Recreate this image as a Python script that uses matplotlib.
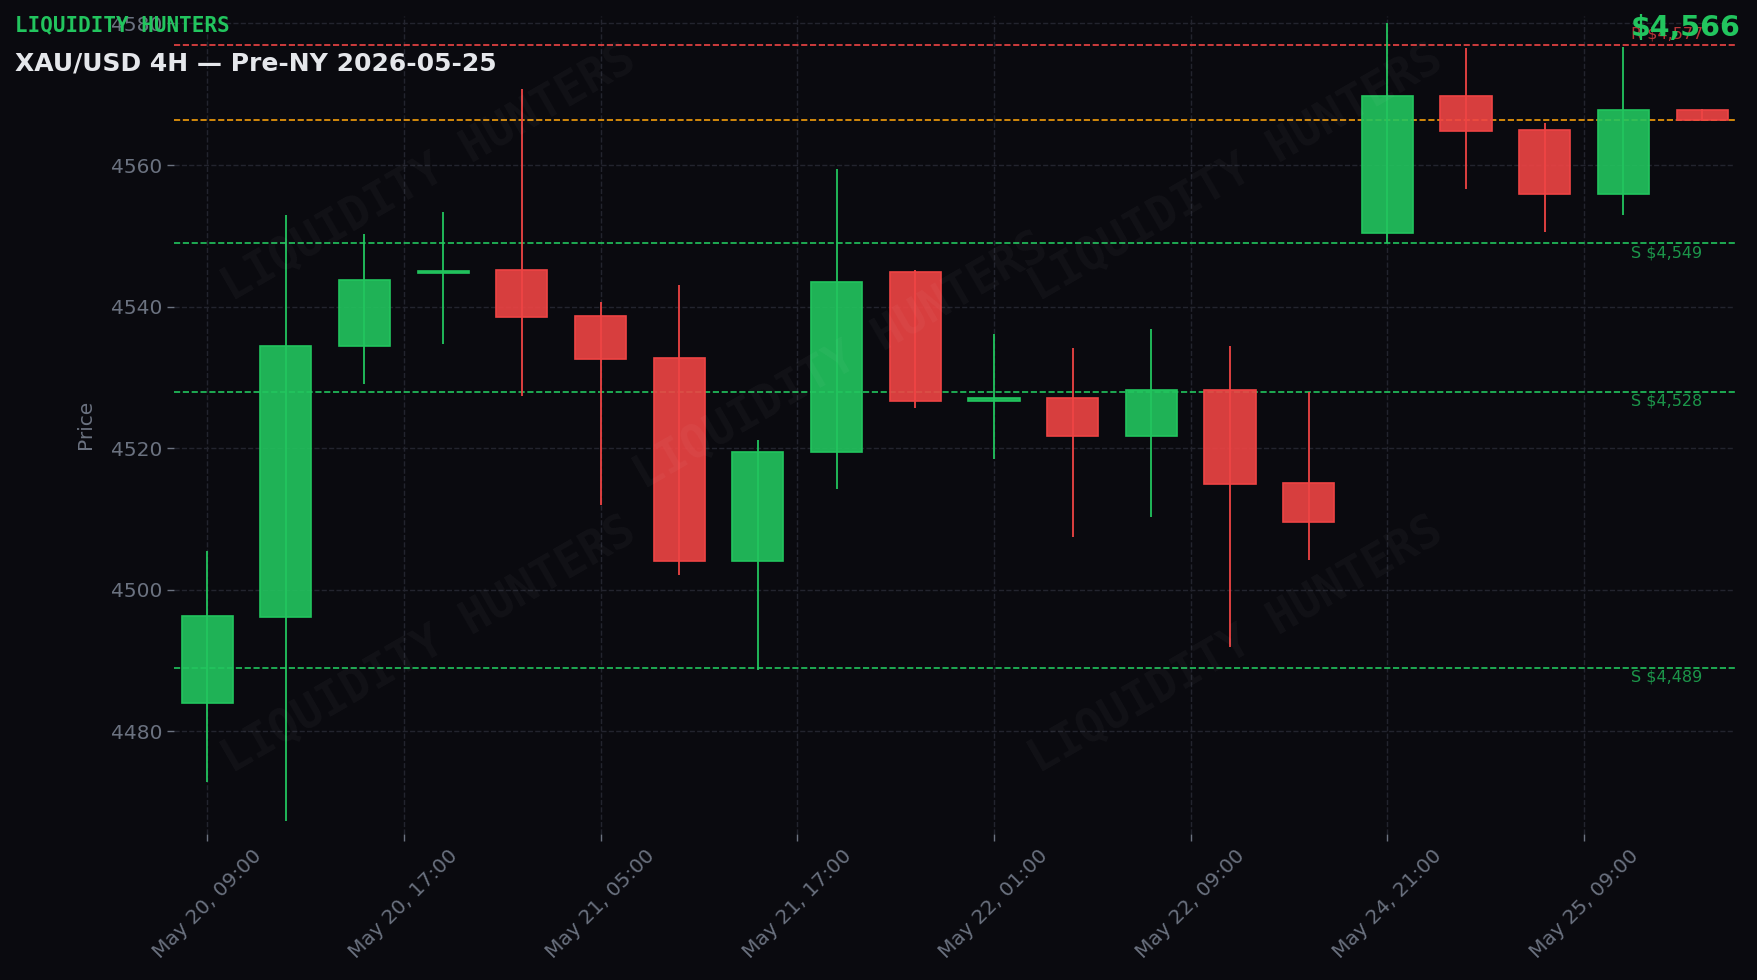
import matplotlib
matplotlib.use("Agg")
import matplotlib.pyplot as plt
from matplotlib.patches import Rectangle
from matplotlib.ticker import FuncFormatter, MultipleLocator

# ---------------- data ----------------
times = ["May 20, 09:00", "May 20, 13:00", "May 20, 17:00", "May 20, 21:00",
         "May 21, 01:00", "May 21, 05:00", "May 21, 09:00", "May 21, 13:00",
         "May 21, 17:00", "May 21, 21:00", "May 22, 01:00", "May 22, 05:00",
         "May 22, 09:00", "May 22, 13:00", "May 22, 17:00", "May 24, 21:00",
         "May 25, 01:00", "May 25, 05:00", "May 25, 09:00", "May 25, 13:00"]
opens  = [4484.0, 4496.2, 4534.4, 4544.7, 4545.2, 4538.7, 4532.8, 4504.1, 4519.4, 4544.9,
          4526.7, 4527.1, 4521.7, 4528.2, 4515.1, 4550.4, 4569.8, 4565.0, 4555.9, 4567.8]
highs  = [4505.5, 4553.0, 4550.3, 4553.3, 4570.8, 4540.6, 4543.0, 4521.1, 4559.4, 4545.2,
          4536.2, 4534.2, 4536.8, 4534.5, 4527.9, 4580.1, 4576.6, 4566.0, 4576.7, 4567.9]
lows   = [4472.8, 4467.3, 4529.1, 4534.7, 4527.4, 4512.0, 4502.1, 4488.7, 4514.2, 4525.7,
          4518.5, 4507.5, 4510.3, 4491.9, 4504.2, 4549.0, 4556.6, 4550.5, 4553.0, 4566.2]
closes = [4496.3, 4534.4, 4543.7, 4545.0, 4538.5, 4532.6, 4504.1, 4519.5, 4543.5, 4526.6,
          4527.0, 4521.7, 4528.2, 4515.0, 4509.6, 4569.8, 4564.8, 4555.9, 4567.8, 4566.4]

resistance_levels = [4577]
support_levels = [4549, 4528, 4489]
current_price = 4566.4

title = "XAU/USD 4H \u2014 Pre-NY 2026-05-25"
brand = "LIQUIDITY HUNTERS"

# ---------------- style ----------------
BG = "#0a0a0f"
GREEN = "#22c55e"
RED = "#ef4444"
ORANGE = "#f59e0b"
GRID = "#23242e"
TICK = "#6b7280"

fig = plt.figure(figsize=(17.58, 9.8), dpi=100, facecolor=BG)
ax = fig.add_axes([0.099, 0.149, 0.888, 0.835], facecolor=BG)

n = len(opens)
width = 0.65
for i in range(n):
    o, h, l, c = opens[i], highs[i], lows[i], closes[i]
    col = GREEN if c >= o else RED
    ax.vlines(i, l, h, color=col, linewidth=1.3, zorder=2)
    bottom = min(o, c)
    height = max(abs(c - o), 0.35)
    ax.add_patch(Rectangle((i - width / 2, bottom), width, height,
                           facecolor=col, alpha=0.9, edgecolor="none", zorder=3))
    ax.add_patch(Rectangle((i - width / 2, bottom), width, height,
                           facecolor="none", edgecolor=col, linewidth=1.2, zorder=3))

# level lines
label_x = n - 1.9
for r in resistance_levels:
    ax.axhline(r, color=RED, linestyle="--", linewidth=1.2, zorder=1.5)
    ax.text(label_x, r + 0.4, f"R ${r:,.0f}", color=RED, alpha=0.75,
            fontsize=11.5, ha="left", va="bottom", zorder=4)
for s in support_levels:
    ax.axhline(s, color=GREEN, linestyle="--", linewidth=1.2, zorder=1.5)
    ax.text(label_x, s - 0.3, f"S ${s:,.0f}", color=GREEN, alpha=0.75,
            fontsize=11.5, ha="left", va="top", zorder=4)
ax.axhline(current_price, color=ORANGE, linestyle="--", linewidth=1.2, zorder=1.5)

# axes limits / ticks
ax.set_xlim(-0.42, n - 1 + 0.42)
ax.set_ylim(min(lows) - 1.8, max(highs) + 1.0)
ax.yaxis.set_major_locator(MultipleLocator(20))
ax.xaxis.set_major_formatter(FuncFormatter(
    lambda x, pos: times[int(round(x))] if 0 <= round(x) < n else ""))
ax.yaxis.set_major_formatter(FuncFormatter(lambda y, pos: f"{y:.0f}"))

ax.grid(True, color=GRID, linestyle="--", linewidth=1.0, zorder=0)
ax.set_axisbelow(True)
for sp in ax.spines.values():
    sp.set_visible(False)
ax.tick_params(axis="both", colors=TICK, labelsize=14.5, length=5, width=1)
for lab in ax.get_xticklabels():
    lab.set_rotation(45)
    lab.set_ha("center")
ax.set_ylabel("Price", color=TICK, fontsize=14.5, labelpad=11)

# watermark
for (wx, wy) in [(0.163, 0.807), (0.163, 0.231), (0.427, 0.578), (0.680, 0.807), (0.680, 0.231)]:
    ax.text(wx, wy, brand, transform=ax.transAxes, rotation=30,
            ha="center", va="center", fontsize=33, fontweight="bold",
            family="DejaVu Sans Mono", color="white", alpha=0.035, zorder=5)

# header texts
fig.text(0.0085, 0.974, brand, color=GREEN, fontsize=15, fontweight="bold",
         family="DejaVu Sans Mono", ha="left", va="center")
fig.text(0.0085, 0.935, title, color="#e5e7eb", fontsize=18, fontweight="bold",
         ha="left", va="center")
fig.text(0.990, 0.971, f"${current_price:,.0f}", color=GREEN, fontsize=20.5,
         fontweight="bold", ha="right", va="center")

fig.savefig("out.png", dpi=100, facecolor=BG)
